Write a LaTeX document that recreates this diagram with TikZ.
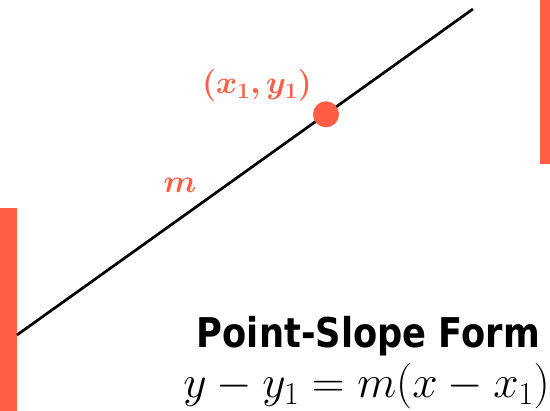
\RequirePackage{fix-cm}
\documentclass[tikz,border=0pt]{standalone}
\usepackage{amsmath,bm}
\usepackage{fontspec}
\newfontfamily\titlefont[FakeStretch=0.86]{DejaVu Sans}
\definecolor{accent}{RGB}{255,94,68}
\begin{document}
\begin{tikzpicture}[x=1pt,y=-1pt,
  bar/.style={fill=accent,draw=none},
  lbl/.style={text=accent,inner sep=0pt},
  thinline/.style={line width=2.7pt,black}]
\useasboundingbox (0,0) rectangle (550,411);
\fill[bar] (0,208) rectangle (17,411);
\fill[bar] (540,0) rectangle (550,164);
\coordinate (A) at (17,335);
\coordinate (B) at (473,9);
\draw[thinline] (A) -- (B);
\node[circle,fill=accent,minimum size=26pt,inner sep=0pt] (P) at (326,114.3) {};
\node[lbl,anchor=base] (PL) at (257,94) {\fontsize{32}{36}\selectfont$\bm{(x_1,y_1)}$};
\node[lbl,anchor=base] (ML) at (180,193) {\fontsize{32}{36}\selectfont$\bm{m}$};
\node[inner sep=0pt,anchor=base east] (T) at (540,348) {\fontsize{41}{46}\selectfont\titlefont\bfseries Point-Slope Form};
\node[inner sep=0pt,anchor=base east] (E) at (550,398) {\fontsize{45.5}{50}\selectfont$y-y_1=m(x-x_1)$};
\end{tikzpicture}
\end{document}
